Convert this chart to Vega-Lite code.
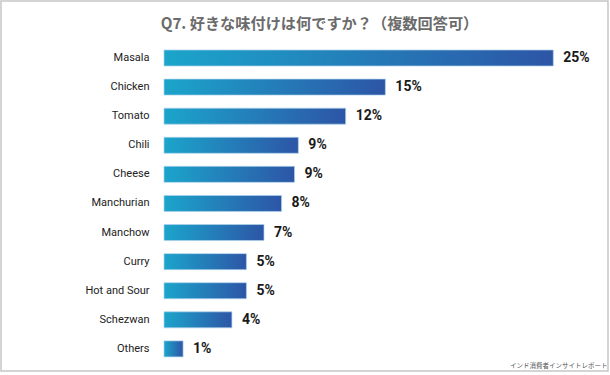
{
  "$schema": "https://vega.github.io/schema/vega-lite/v6.json",
  "width": 607,
  "height": 370,
  "autosize": {"type": "none"},
  "padding": {"left": 1, "top": 1, "right": 2, "bottom": 4},
  "background": "#ffffff",
  "config": {
    "view": {"stroke": "#c6c6c6", "strokeWidth": 1.5}
  },
  "title": {
    "text": "Q7. 好きな味付けは何ですか？（複数回答可）",
    "anchor": "middle",
    "frame": "group",
    "baseline": "top",
    "offset": 0,
    "dx": 15,
    "dy": 31,
    "font": "Noto Sans CJK JP",
    "fontSize": 15.2,
    "fontWeight": "bold",
    "color": "#6b6b6b"
  },
  "data": {
    "values": [
      {"flavor": "Masala", "value": 25.5, "label": "25%"},
      {"flavor": "Chicken", "value": 14.5, "label": "15%"},
      {"flavor": "Tomato", "value": 11.9, "label": "12%"},
      {"flavor": "Chili", "value": 8.8, "label": "9%"},
      {"flavor": "Cheese", "value": 8.55, "label": "9%"},
      {"flavor": "Manchurian", "value": 7.7, "label": "8%"},
      {"flavor": "Manchow", "value": 6.55, "label": "7%"},
      {"flavor": "Curry", "value": 5.4, "label": "5%"},
      {"flavor": "Hot and Sour", "value": 5.4, "label": "5%"},
      {"flavor": "Schezwan", "value": 4.45, "label": "4%"},
      {"flavor": "Others", "value": 1.25, "label": "1%"}
    ]
  },
  "encoding": {
    "y": {
      "field": "flavor",
      "type": "nominal",
      "sort": null,
      "scale": {"range": [42.45, 362.45], "paddingInner": 0.45, "paddingOuter": 0.225},
      "axis": {
        "title": null,
        "offset": -163,
        "ticks": false,
        "domain": false,
        "grid": false,
        "labelPadding": 15,
        "labelFont": "Roboto",
        "labelFontSize": 11,
        "labelColor": "#222222"
      }
    },
    "x": {
      "field": "value",
      "type": "quantitative",
      "scale": {"domain": [0, 25.5], "range": [163, 552.3], "nice": false, "zero": true},
      "axis": {
        "title": "インド消費者インサイトレポート",
        "labels": false,
        "ticks": false,
        "domain": false,
        "grid": false,
        "titleX": 606,
        "titleY": -5.5,
        "titleAlign": "right",
        "titleAnchor": null,
        "titleBaseline": "middle",
        "titleFont": "Noto Sans CJK JP",
        "titleFontSize": 6.5,
        "titleFontWeight": "normal",
        "titleColor": "#555555"
      }
    }
  },
  "layer": [
    {
      "mark": {
        "type": "bar",
        "stroke": "#aed3ec",
        "strokeWidth": 0.7,
        "color": {
          "gradient": "linear",
          "x1": 0, "y1": 0, "x2": 1, "y2": 0,
          "stops": [
            {"offset": 0, "color": "#1ba5cb"},
            {"offset": 1, "color": "#2d55a6"}
          ]
        }
      }
    },
    {
      "mark": {
        "type": "text",
        "align": "left",
        "baseline": "middle",
        "dx": 10,
        "font": "Roboto",
        "fontSize": 14,
        "fontWeight": "bold",
        "color": "#1a1a1a"
      },
      "encoding": {"text": {"field": "label"}}
    }
  ]
}
